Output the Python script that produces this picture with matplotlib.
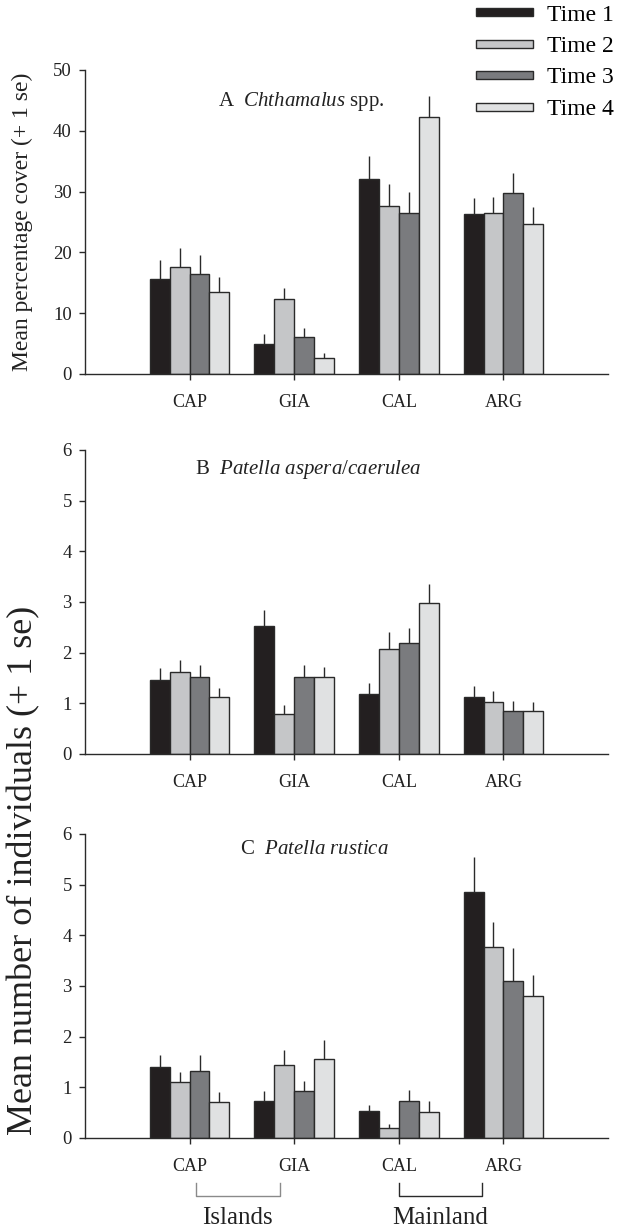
import numpy as np
import matplotlib
matplotlib.use("Agg")
import matplotlib.pyplot as plt
from matplotlib.patches import Patch, Rectangle
from matplotlib.legend_handler import HandlerPatch

plt.rcParams['font.family'] = ['Liberation Serif', 'DejaVu Serif']
plt.rcParams['mathtext.fontset'] = 'custom'
plt.rcParams['mathtext.rm'] = 'Liberation Serif'
plt.rcParams['mathtext.it'] = 'Liberation Serif:italic'

# Data
sites = ["CAP", "GIA", "CAL", "ARG"]
times = ["Time 1", "Time 2", "Time 3", "Time 4"]
colors = ["#231f20", "#c5c6c8", "#7a7b7e", "#e0e1e2"]

# A  Chthamalus spp. (mean % cover, se)
chth_mean = [[15.7, 4.9, 32.1, 26.3],
             [17.6, 12.3, 27.7, 26.5],
             [16.5, 6.1, 26.5, 29.8],
             [13.5, 2.7, 42.2, 24.6]]
chth_se = [[3.0, 1.6, 3.8, 2.6],
           [3.2, 1.8, 3.5, 2.6],
           [3.1, 1.5, 3.5, 3.2],
           [2.5, 0.8, 3.6, 2.8]]

# B  Patella aspera/caerulea (mean number, se)
asp_mean = [[1.47, 2.52, 1.19, 1.13],
            [1.62, 0.79, 2.08, 1.02],
            [1.51, 1.51, 2.19, 0.85],
            [1.12, 1.51, 2.98, 0.85]]
asp_se = [[0.22, 0.33, 0.21, 0.22],
          [0.24, 0.18, 0.33, 0.23],
          [0.25, 0.25, 0.30, 0.20],
          [0.19, 0.21, 0.38, 0.18]]

# C  Patella rustica
rus_mean = [[1.41, 0.74, 0.54, 4.85],
            [1.11, 1.45, 0.19, 3.77],
            [1.32, 0.92, 0.74, 3.10],
            [0.72, 1.56, 0.52, 2.80]]
rus_se = [[0.23, 0.19, 0.12, 0.69],
          [0.19, 0.29, 0.09, 0.49],
          [0.32, 0.21, 0.20, 0.65],
          [0.19, 0.37, 0.21, 0.41]]

W, H = 619, 1229
fig = plt.figure(figsize=(W / 100, H / 100), dpi=100)

dark = "#2a2a2a"
bw = 0.19
x = np.arange(1, len(sites) + 1)


def panel(top_px, means, ses, ymax, yticks, title, tx, ty):
    ax = fig.add_axes([85 / W, 1 - (top_px + 304) / H, 523 / W, 304 / H])
    for i in range(4):
        pos = x + (i - 1.5) * bw
        ax.bar(pos, means[i], width=bw, color=colors[i], edgecolor=dark,
               linewidth=1.0, zorder=2)
        ax.errorbar(pos, means[i], yerr=[np.zeros(4), ses[i]], fmt='none',
                    ecolor=dark, elinewidth=1.0, capsize=0, zorder=1)
    ax.set_xlim(0, 5)
    ax.set_ylim(0, ymax)
    ax.set_yticks(yticks)
    ax.set_xticks(x)
    ax.set_xticklabels(sites)
    for s in ["top", "right"]:
        ax.spines[s].set_visible(False)
    for s in ["left", "bottom"]:
        ax.spines[s].set_color(dark)
        ax.spines[s].set_linewidth(1.0)
    ax.tick_params(axis='y', direction='out', length=4.5, width=1, color=dark,
                   labelsize=13.5, pad=5, labelcolor="#222222")
    ax.tick_params(axis='x', direction='out', length=4.5, width=1, color=dark,
                   labelsize=13, pad=10, labelcolor="#222222")
    ax.text(tx, ty, title, transform=ax.transAxes, ha='center', va='center',
            fontsize=15, color="#222222")
    return ax


axA = panel(70, chth_mean, chth_se, 50, range(0, 51, 10),
            r"A  $\it{Chthamalus}$ spp.", 0.413, 0.895)
axB = panel(450, asp_mean, asp_se, 6, range(0, 7),
            r"B  $\it{Patella\ aspera/caerulea}$", 0.426, 0.935)
axC = panel(834, rus_mean, rus_se, 6, range(0, 7),
            r"C  $\it{Patella\ rustica}$", 0.438, 0.948)

fig.text(22 / W, 1 - 222 / H, "Mean percentage cover (+ 1 se)", rotation=90,
         ha='center', va='center', fontsize=17, color="#222222")
fig.text(24 / W, 1 - 870 / H, "Mean number of individuals (+ 1 se)", rotation=90,
         ha='center', va='center', fontsize=26, color="#222222")

# island / mainland brackets under panel C
tr = axC.get_xaxis_transform()
for (x0, x1), name, col in [((1.06, 1.86), "Islands", "#8a8a8a"),
                            ((3.0, 3.8), "Mainland", dark)]:
    axC.plot([x0, x0, x1, x1], [-0.147, -0.19, -0.19, -0.147], color=col,
             lw=1.0, transform=tr, clip_on=False)
    axC.text((x0 + x1) / 2, -0.262, name, transform=tr, ha='center',
             va='center', fontsize=18, color="#222222")


def thin_bar(legend, orig_handle, xdescent, ydescent, width, height, fontsize):
    h = 0.34 * fontsize
    return Rectangle((-xdescent, -ydescent + (height - h) / 2), width, h)


handles = [Patch(facecolor=c, edgecolor=dark, linewidth=1.0) for c in colors]
fig.legend(handles, times, loc='upper left', bbox_to_anchor=(476 / W, 1 - 4 / H),
           frameon=False, fontsize=17, handlelength=2.4, handleheight=0.7,
           handletextpad=0.6, labelspacing=0.42, borderpad=0, borderaxespad=0,
           handler_map={Patch: HandlerPatch(patch_func=thin_bar)})

fig.savefig("out.png", dpi=100)
